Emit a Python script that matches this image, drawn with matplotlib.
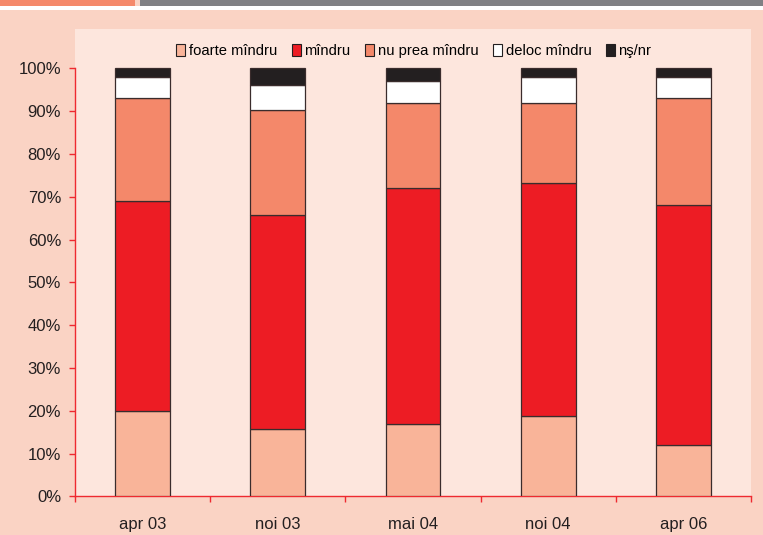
import matplotlib
matplotlib.use('Agg')
import matplotlib.pyplot as plt
from matplotlib import font_manager
from matplotlib.patches import Rectangle, Patch
import numpy as np

# date
perioade = ['apr 03', 'noi 03', 'mai 04', 'noi 04', 'apr 06']
categorii = ['foarte mîndru', 'mîndru', 'nu prea mîndru', 'deloc mîndru', 'nş/nr']
foarte_mindru = [20.0, 15.7, 17.0, 18.8, 12.0]
mindru = [49.0, 50.1, 55.0, 54.5, 56.0]
nu_prea_mindru = [24.0, 24.5, 20.0, 18.7, 25.0]
deloc_mindru = [5.0, 5.7, 5.0, 6.0, 5.0]
ns_nr = [2.0, 4.0, 3.0, 2.0, 2.0]

culori = ['#F9B499', '#ED1C24', '#F4886A', '#FFFFFF', '#231F20']

# font ingust daca exista
nume = {f.name for f in font_manager.fontManager.ttflist}
if 'Liberation Sans Narrow' in nume:
    familie = ['Liberation Sans Narrow', 'DejaVu Sans']
    scala = 1.0
else:
    familie = ['Liberation Sans', 'DejaVu Sans']
    scala = 0.84
plt.rcParams['font.family'] = familie

W, H = 763, 535
fig = plt.figure(figsize=(W / 100, H / 100), dpi=100)
fig.patch.set_facecolor('#FAD3C4')

# banda de sus
fig.patches.append(Rectangle((0, 1 - 5.5 / H), 135 / W, 5.5 / H, transform=fig.transFigure,
                             facecolor='#F5896B', edgecolor='none'))
fig.patches.append(Rectangle((140 / W, 1 - 5.5 / H), 1 - 140 / W, 5.5 / H, transform=fig.transFigure,
                             facecolor='#808084', edgecolor='none'))
fig.patches.append(Rectangle((0, 1 - 9.5 / H), 1, 4 / H, transform=fig.transFigure,
                             facecolor='white', edgecolor='none'))

ax = fig.add_axes([75 / W, (H - 496.3) / H, (751 - 75) / W, (496.3 - 29) / H])
ax.set_facecolor('#FDE6DD')

x = np.arange(len(perioade))
serii = [foarte_mindru, mindru, nu_prea_mindru, deloc_mindru, ns_nr]
baza = np.zeros(len(perioade))
for valori, culoare in zip(serii, culori):
    ax.bar(x, valori, width=0.404, bottom=baza, color=culoare,
           edgecolor='#3A2C2C', linewidth=0.9, zorder=3)
    baza = baza + np.array(valori)

ax.set_xlim(-0.5, len(perioade) - 0.5)
ax.set_ylim(0, 109.2)
ax.set_yticks(np.arange(0, 101, 10))
ax.set_yticklabels([f'{v}%' for v in range(0, 101, 10)])
ax.set_xticks(x)
ax.set_xticklabels(perioade)
ax.set_xticks(np.arange(-0.5, len(perioade), 1), minor=True)

for s in ['top', 'right']:
    ax.spines[s].set_visible(False)
for s in ['left', 'bottom']:
    ax.spines[s].set_color('#EE2A30')
    ax.spines[s].set_linewidth(1.0)
ax.spines['left'].set_bounds(0, 100)

ax.tick_params(axis='y', colors='#EE2A30', length=4.5, width=1.0, pad=5.5,
               labelcolor='#231F20', labelsize=14.3 * scala)
ax.tick_params(axis='x', which='major', length=0, pad=15,
               labelcolor='#231F20', labelsize=14.3 * scala)
ax.tick_params(axis='x', which='minor', colors='#EE2A30', length=4.5, width=1.0)

handles = [Patch(facecolor=c, edgecolor='#231F20', linewidth=0.8) for c in culori]
fig.legend(handles, categorii, loc='center', bbox_to_anchor=(414 / W, 1 - 51 / H),
           ncol=5, frameon=False, fontsize=12.6 * scala, handlelength=0.6,
           handleheight=0.8, handletextpad=0.25, columnspacing=1.0, borderpad=0)

fig.savefig('out.png', dpi=100, facecolor=fig.get_facecolor())
